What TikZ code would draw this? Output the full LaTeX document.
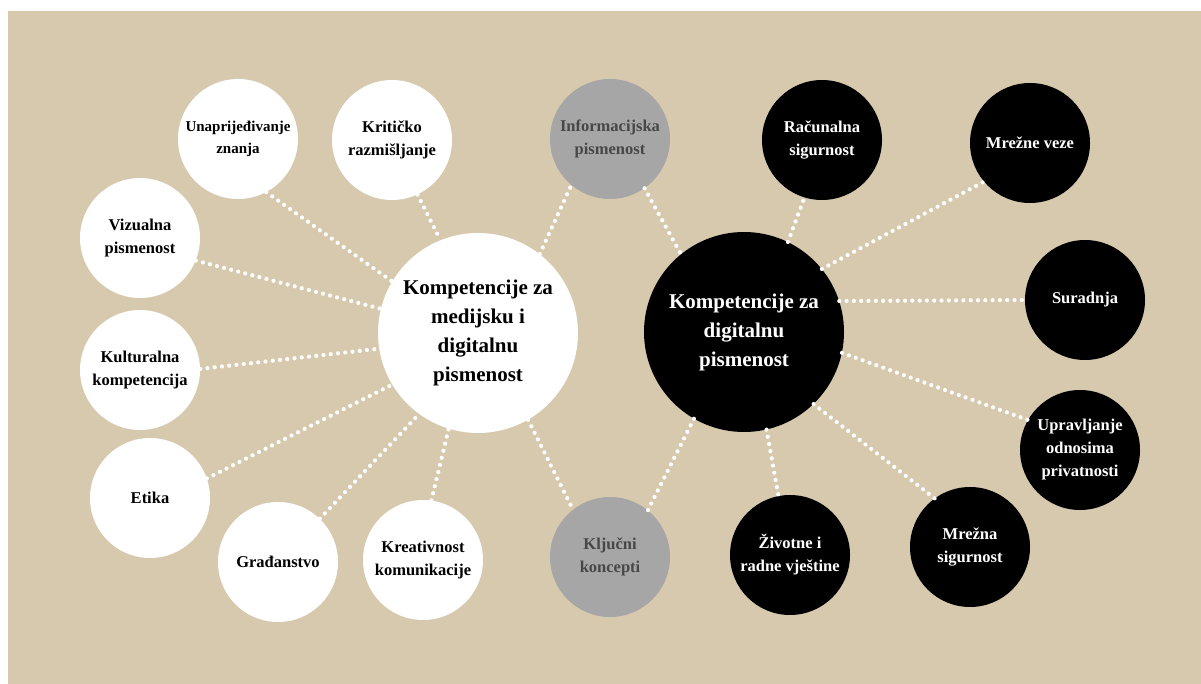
\documentclass[tikz,border=0pt]{standalone}
\usepackage{fontspec}
\setmainfont{Liberation Serif}
\definecolor{bg}{HTML}{D7C9AE}
\definecolor{gr}{HTML}{A6A6A6}
\definecolor{grtext}{HTML}{474747}
\tikzset{
  sat/.style={circle, minimum size=120pt, inner sep=0pt, align=center,
    font=\bfseries\fontsize{16.5}{23}\selectfont},
  wsat/.style={sat, fill=white, text=black},
  gsat/.style={sat, fill=gr, text=grtext},
  bsat/.style={sat, fill=black, text=white},
  hub/.style={circle, minimum size=200pt, inner sep=0pt, align=center,
    font=\bfseries\fontsize{21}{29}\selectfont},
  dots/.style={white, line width=4.2pt, line cap=round, dash pattern=on 0pt off 7.3pt}
}
\begin{document}
\begin{tikzpicture}[x=1pt,y=-1pt]
\useasboundingbox (0,0) rectangle (1201,684);
\fill[bg] (8,11) rectangle (1201,684);
% hubs
\node[hub, fill=white, text=black] (L) at (478,333) {Kompetencije za\\medijsku i\\digitalnu\\pismenost};
\node[hub, fill=black, text=white] (R) at (744,332) {Kompetencije za\\digitalnu\\pismenost};
% left satellites
\node[wsat, font=\bfseries\fontsize{15}{22}\selectfont] (unap) at (238,139) {Unaprijeđivanje\\znanja};
\node[wsat] (krit) at (392,140) {Kritičko\\razmišljanje};
\node[wsat] (viz) at (140,238) {Vizualna\\pismenost};
\node[wsat] (kult) at (140,370) {Kulturalna\\kompetencija};
\node[wsat] (etika) at (150,498) {Etika};
\node[wsat] (grad) at (278,562) {Građanstvo};
\node[wsat] (kreat) at (423,560) {Kreativnost\\komunikacije};
% grey
\node[gsat] (info) at (610,139) {Informacijska\\pismenost};
\node[gsat] (kljuc) at (610,557) {Ključni\\koncepti};
% right satellites
\node[bsat] (rac) at (822,140) {Računalna\\sigurnost};
\node[bsat] (mveze) at (1030,143) {Mrežne veze};
\node[bsat] (sur) at (1085,300) {Suradnja};
\node[bsat] (uprav) at (1080,450) {Upravljanje\\odnosima\\privatnosti};
\node[bsat] (msig) at (970,547) {Mrežna\\sigurnost};
\node[bsat] (ziv) at (790,555) {Životne i\\radne vještine};
% connectors
\draw[dots] (unap.-62.6) -- (L.149);
\draw[dots] (krit.-65.5) -- (L.112.4);
\draw[dots] (viz.-22.8) -- (L.166);
\draw[dots] (kult.1.8) -- (L.189);
\draw[dots] (etika.19.3) -- (L.211.4);
\draw[dots] (grad.46.9) -- (L.234.8);
\draw[dots] (kreat.82) -- (L.253.6);
\draw[dots] (L.-60.5) -- (kljuc.128.7);
\draw[dots] (R.240.5) -- (kljuc.51.9);
\draw[dots] (L.52) -- (info.230.5);
\draw[dots] (info.-55.5) -- (R.129.5);
\draw[dots] (R.64.4) -- (rac.253.7);
\draw[dots] (R.39.5) -- (mveze.220);
\draw[dots] (R.18) -- (sur.180);
\draw[dots] (R.-12.3) -- (uprav.150);
\draw[dots] (R.-46) -- (msig.126.7);
\draw[dots] (R.-77.8) -- (ziv.101.3);
\end{tikzpicture}
\end{document}
